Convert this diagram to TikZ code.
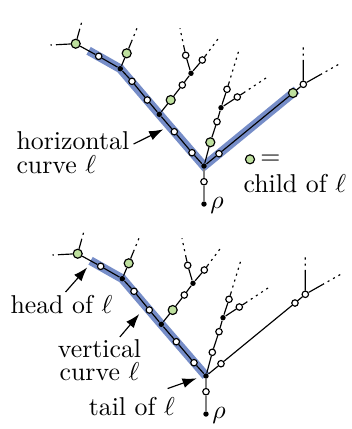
\documentclass[tikz,border=0pt]{standalone}
\usepackage{tikz}
\usetikzlibrary{arrows.meta, positioning, calc, backgrounds}

\definecolor{childgreen}{RGB}{190,224,158}
\definecolor{curveblue}{RGB}{118,141,200}

% solid start of a leaf edge, then dotted to its free end
\newcommand{\stub}[3]{\draw[link] (#1) -- ($(#1)!#3!(#2)$); \draw[stubdots] ($(#1)!#3!(#2)$) -- (#2);}

\begin{document}
\begin{tikzpicture}[x=0.3875pt, y=-0.3875pt, font=\normalsize,
      wn/.style={circle, draw, fill=white, inner sep=0pt, minimum size=2.5pt, line width=0.45pt},
      bn/.style={circle, fill=black, inner sep=0pt, minimum size=2.1pt},
      gn/.style={circle, draw, fill=childgreen, inner sep=0pt, minimum size=3.5pt, line width=0.45pt},
      link/.style={line width=0.45pt},
      stubdots/.style={line width=0.45pt, dash pattern=on 0.8pt off 1.6pt},
      hl/.style={line width=3.4pt, curveblue},
      lbl/.style={inner sep=0pt},
      arr/.style={-{Latex[length=5.5pt, width=3.8pt]}, line width=0.45pt}]
    \useasboundingbox (0,0) rectangle (352,429);

    % the same tree twice
    \foreach \tn/\dx/\dy/\cfill/\csize in {t/0/0/childgreen/3.5pt, b/2/210/white/2.5pt}{
      \begin{scope}[shift={(\dx,\dy)}]
        \node[bn] (\tn j) at (204,166) {};
        \node[wn] (\tn w) at (204,181.7) {};
        \node[bn] (\tn r) at (204,204) {};
        \node[lbl, right=1pt of \tn r, yshift=-0.6pt] (\tn rho) {$\rho$};
        \node[wn] (\tn a1) at (192,152.7) {};
        \node[wn] (\tn a2) at (174.3,131.7) {};
        \node[bn] (\tn a3) at (159.3,114.3) {};
        \node[wn] (\tn a4) at (147.3,100) {};
        \node[wn] (\tn a5) at (132,81.3) {};
        \node[bn] (\tn a6) at (120.3,68.7) {};
        \node[wn] (\tn a7) at (98.7,56.3) {};
        \node[gn] (\tn a8) at (75.7,43.7) {};
        \node[gn] (\tn g) at (126.7,53.3) {};
        \node[gn] (\tn b1) at (170.7,100) {};
        \node[wn] (\tn b2) at (182.3,85) {};
        \node[bn] (\tn b3) at (191,73.3) {};
        \node[wn] (\tn b4) at (185.7,55.3) {};
        \node[wn] (\tn b5) at (202.3,60) {};
        \node[wn, fill=\cfill, minimum size=\csize] (\tn c1) at (210.3,142.3) {};
        \node[wn] (\tn c2) at (217,121.7) {};
        \node[bn] (\tn c3) at (221,107.7) {};
        \node[wn] (\tn c4) at (227,89.3) {};
        \node[wn] (\tn c5) at (237.3,97) {};
        \node[wn] (\tn r1) at (219,153.7) {};
        \node[wn, fill=\cfill, minimum size=\csize] (\tn r2) at (293,93) {};
        \node[wn] (\tn r3) at (303.3,84.3) {};
        \coordinate (\tn e1) at (50.5,45);
        \coordinate (\tn e2) at (82,21);
        \coordinate (\tn e3) at (138.3,25);
        \coordinate (\tn e4) at (180,28.3);
        \coordinate (\tn e5) at (218.3,38.5);
        \coordinate (\tn e6) at (239,50);
        \coordinate (\tn e7) at (269,76);
        \coordinate (\tn e8) at (303.3,45);
        \coordinate (\tn e9) at (341,63);

        \draw[link, gray] (\tn j) -- (\tn w) -- (\tn r);
        \draw[link] (\tn j) -- (\tn a1) -- (\tn a2) -- (\tn a3) -- (\tn a4) -- (\tn a5) -- (\tn a6) -- (\tn a7) -- (\tn a8);
        \draw[link] (\tn a6) -- (\tn g);
        \draw[link] (\tn a3) -- (\tn b1) -- (\tn b2) -- (\tn b3) -- (\tn b4);
        \draw[link] (\tn b3) -- (\tn b5);
        \draw[link] (\tn j) -- (\tn c1) -- (\tn c2) -- (\tn c3) -- (\tn c4);
        \draw[link] (\tn c3) -- (\tn c5);
        \draw[link] (\tn j) -- (\tn r1) -- (\tn r2) -- (\tn r3);
        \stub{\tn a8}{\tn e1}{0.7}
        \stub{\tn a8}{\tn e2}{0.57}
        \stub{\tn g}{\tn e3}{0.41}
        \stub{\tn b4}{\tn e4}{0.3}
        \stub{\tn b5}{\tn e5}{0.2}
        \stub{\tn c4}{\tn e6}{0.15}
        \stub{\tn c5}{\tn e7}{0.2}
        \stub{\tn r3}{\tn e8}{0.57}
        \stub{\tn r3}{\tn e9}{0.45}
      \end{scope}
    }

    % highlighted curves
    \begin{scope}[on background layer]
      \draw[hl] ($(ta8)!0.56!(ta7)$) -- (ta6.center) -- (ta3.center) -- (tj.center) -- ($(tj)!1.04!(tr2)$);
      \draw[hl] ($(ba8)!0.56!(ba7)$) -- (ba6.center) -- (ba3.center) -- (bj.center);
    \end{scope}

    % top labels
    \node[lbl, align=left, anchor=north west, font=\fontsize{10pt}{9.3pt}\selectfont] (hc) at (16,131.4) {horizontal\\curve $\ell$};
    \coordinate (hcTip) at (163.3,129.3);
    \draw[arr] ([xshift=1.5pt, yshift=-4.9pt]hc.north east) -- (hcTip);
    \node[gn] (key) at (250,159.3) {};
    \node[lbl, right=1.8pt of key] (eq) {$=$};
    \node[lbl, anchor=base west] (ch) at (243,192.7) {child of $\ell$};

    % bottom labels
    \node[lbl, anchor=base west] (hd) at (10,313.3) {head of $\ell$};
    \coordinate (hdTip) at (87.3,267.3);
    \draw[arr] ([xshift=1.6pt, yshift=1pt]hd.north) -- (hdTip);
    \node[lbl, align=center, anchor=north, font=\fontsize{10pt}{8.6pt}\selectfont] (vc) at (99.5,339.5) {vertical\\curve $\ell$};
    \coordinate (vcTip) at (139.3,314);
    \draw[arr] ([xshift=7.9pt, yshift=1pt]vc.north) -- (vcTip);
    \node[lbl, anchor=base west] (tl) at (88.3,415) {tail of $\ell$};
    \coordinate (tlTip) at (196.7,378.3);
    \draw[arr] ([xshift=-3pt, yshift=3pt]tl.north east) -- (tlTip);
  \end{tikzpicture}
\end{document}
